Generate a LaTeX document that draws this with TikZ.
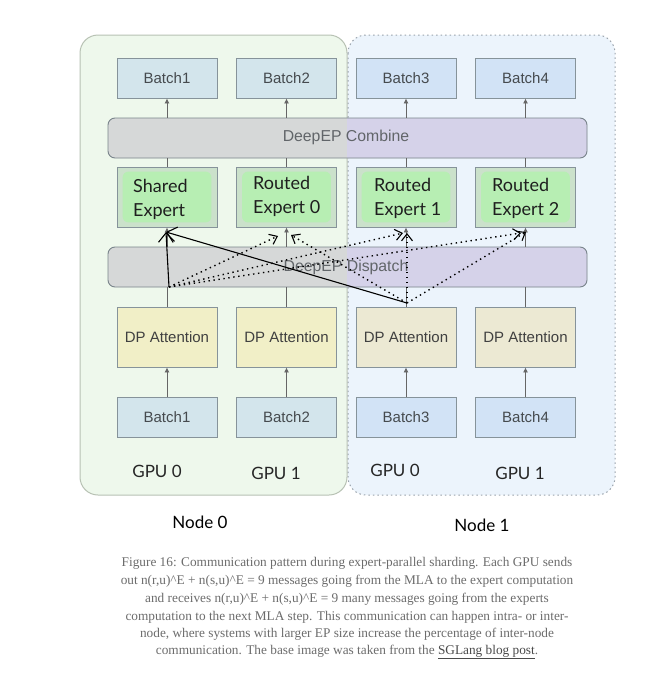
\documentclass[tikz,border=0pt]{standalone}
\usepackage{fontspec}
\setmainfont{Liberation Serif}
\newfontfamily\boxfont{Liberation Sans}
\newfontfamily\roundfont{Lato}
\usetikzlibrary{arrows.meta,calc}
\definecolor{nodeAfill}{HTML}{EEF8EC}
\definecolor{nodeAline}{HTML}{B8C2B4}
\definecolor{nodeBfill}{HTML}{E9F3FC}
\definecolor{nodeBline}{HTML}{9AA3AC}
\definecolor{batchA}{HTML}{D3E5EC}
\definecolor{batchB}{HTML}{D2E3F6}
\definecolor{boxline}{HTML}{86939A}
\definecolor{barL}{HTML}{D6D8D8}
\definecolor{barR}{HTML}{D5D2E9}
\definecolor{expOut}{HTML}{CBE1CB}
\definecolor{expIn}{HTML}{B7EEB3}
\definecolor{dpA}{HTML}{F1EFC7}
\definecolor{dpB}{HTML}{ECE9D3}
\definecolor{txtgray}{HTML}{454A4E}
\definecolor{capgray}{HTML}{6C6C6C}
\definecolor{linkgray}{HTML}{4A4A4A}
\tikzset{
  box/.style={draw=boxline, line width=0.9pt, minimum width=100pt, inner sep=0pt,
    font=\boxfont\fontsize{15}{17}\selectfont, text=txtgray},
  batchbox/.style={box, minimum height=40pt},
  dpbox/.style={box, minimum height=60pt, text=black!75},
  expbox/.style={draw=boxline, line width=0.9pt, minimum width=100pt, minimum height=60pt,
    inner sep=0pt, fill=expOut},
  exptext/.style={anchor=west, align=left, inner sep=0pt,
    font=\roundfont\fontsize{18}{24}\selectfont, text=black!88},
  barbox/.style={draw=boxline!90!black, line width=0.9pt, rounded corners=7pt,
    minimum width=479pt, minimum height=40pt, inner sep=0pt,
    font=\boxfont\fontsize{15.8}{18}\selectfont, text=txtgray!85},
  flow/.style={draw=black!60, line width=0.8pt},
  flowtip/.style={flow, -{Latex[length=5pt,width=5pt]}},
  solidmsg/.style={draw=black, line width=1.1pt, -{Straight Barb[length=9pt,width=16pt,line width=1.1pt]}},
  dotmsg/.style={draw=black, line width=1.4pt, dash pattern=on 1.4pt off 3.6pt, -{Straight Barb[length=7pt,width=11pt,line width=1.1pt]}},
  gpulabel/.style={font=\roundfont\fontsize{17}{19}\selectfont, text=black!85},
  nodelabel/.style={font=\roundfont\fontsize{17}{19}\selectfont, text=black},
  capline/.style={font=\fontsize{13.3}{15}\selectfont, text=capgray, inner sep=0pt}
}
\begin{document}
\begin{tikzpicture}[x=1pt,y=-1pt]
\useasboundingbox (0,0) rectangle (670,680);
\fill[white] (0,0) rectangle (670,680);
% containers
\path[fill=nodeAfill, draw=nodeAline, line width=1pt, rounded corners=18pt] (80,35) rectangle (347,495);
\path[fill=nodeBfill, fill opacity=0.85, draw=nodeBline, line width=1pt, dash pattern=on 1.5pt off 3pt, rounded corners=18pt] (348,35) rectangle (615,495);
% bars fills
\fill[barL, rounded corners=7pt] (108,118) rectangle (587,158);
\begin{scope}\clip (347,100) rectangle (600,170);
\fill[barR, rounded corners=7pt] (108,118) rectangle (587,158);\end{scope}
\fill[barL, rounded corners=7pt] (108,247) rectangle (587,287);
\begin{scope}\clip (347,230) rectangle (600,300);
\fill[barR, rounded corners=7pt] (108,247) rectangle (587,287);\end{scope}
\node[barbox] (combine) at (347.5,138) {};
\node[barbox, draw=none, fill=none] (combinetx) at (346,137) {DeepEP Combine};
\node[barbox] (dispatch) at (347.5,267) {};
\node[barbox, draw=none, fill=none] (dispatchtx) at (346,267) {DeepEP Dispatch};
% top batches
\node[batchbox, fill=batchA] (tb1) at (167,78) {Batch1};
\node[batchbox, fill=batchA] (tb2) at (286.5,78) {Batch2};
\node[batchbox, fill=batchB] (tb3) at (406,78) {Batch3};
\node[batchbox, fill=batchB] (tb4) at (525.5,78) {Batch4};
% experts
\foreach \n/\x in {se/167, re0/286.5, re1/406, re2/525.5}{
  \node[expbox] (\n) at (\x,197) {};
  \fill[expIn, rounded corners=6pt] ($(\n.south west)+(6,-5)$) rectangle ($(\n.north east)+(-6,5)$);
}
\node[exptext] (setx) at (133,199) {Shared\\Expert};
\node[exptext] (re0tx) at (253,196) {Routed\\Expert 0};
\node[exptext] (re1tx) at (374,198) {Routed\\Expert 1};
\node[exptext] (re2tx) at (492,198) {Routed\\Expert 2};
% DP attention
\node[dpbox, fill=dpA] (dp1) at (167,337) {DP Attention};
\node[dpbox, fill=dpA] (dp2) at (286.5,337) {DP Attention};
\node[dpbox, fill=dpB] (dp3) at (406,337) {DP Attention};
\node[dpbox, fill=dpB] (dp4) at (525.5,337) {DP Attention};
% bottom batches
\node[batchbox, fill=batchA] (bb1) at (167,417) {Batch1};
\node[batchbox, fill=batchA] (bb2) at (286.5,417) {Batch2};
\node[batchbox, fill=batchB] (bb3) at (406,417) {Batch3};
\node[batchbox, fill=batchB] (bb4) at (525.5,417) {Batch4};
% flow lines
\foreach \i/\e in {1/se,2/re0,3/re1,4/re2}{
  \draw[flowtip] (bb\i.north) -- (dp\i.south);
  \draw[flow] (dp\i.north) -- (dp\i.north |- dispatch.south);
  \draw[flowtip] (\e.south |- dispatch.north) -- (\e.south);
  \draw[flow] (\e.north) -- (\e.north |- combine.south);
  \draw[flowtip] (tb\i.south |- combine.north) -- (tb\i.south);
}
% message arrows
\coordinate (s0) at (169,287);
\coordinate (s1) at (407,303);
\coordinate (tse) at (166,232);
\coordinate (tre0a) at (278,236);
\coordinate (tre0b) at (291,235);
\coordinate (tre1a) at (403,233);
\coordinate (tre1b) at (407,233);
\coordinate (tre2a) at (521,233);
\coordinate (tre2b) at (526,232);
\draw[solidmsg] (s0) -- (tse);
\draw[solidmsg] (s1) -- (tse);
\draw[dotmsg] (s0) -- (tre0a);
\draw[dotmsg] (s0) -- (tre1a);
\draw[dotmsg] (s0) -- (tre2a);
\draw[dotmsg] (s1) -- (tre0b);
\draw[dotmsg] (s1) -- (tre1b);
\draw[dotmsg] (s1) -- (tre2b);
% labels
\node[gpulabel] (g00) at (157,471) {GPU 0};
\node[gpulabel] (g01) at (276,473) {GPU 1};
\node[gpulabel] (g10) at (395,470) {GPU 0};
\node[gpulabel] (g11) at (520,473) {GPU 1};
\node[nodelabel] (lab0) at (200,522) {Node 0};
\node[nodelabel] (lab1) at (482,525) {Node 1};
% caption
\node[capline] (c1) at (347,563) {Figure 16: Communication pattern during expert-parallel sharding. Each GPU sends};
\node[capline] (c2) at (347,581) {out n(r,u)\textasciicircum E + n(s,u)\textasciicircum E = 9 messages going from the MLA to the expert computation};
\node[capline] (c3) at (347,599) {and receives n(r,u)\textasciicircum E + n(s,u)\textasciicircum E = 9 many messages going from the experts};
\node[capline] (c4) at (347,617) {computation to the next MLA step. This communication can happen intra- or inter-};
\node[capline] (c5) at (347,634) {node, where systems with larger EP size increase the percentage of inter-node};
\node[capline] (c6) at (347,652) {communication. The base image was taken from the {\color{linkgray}\underline{SGLang blog post}}.};
\end{tikzpicture}
\end{document}
